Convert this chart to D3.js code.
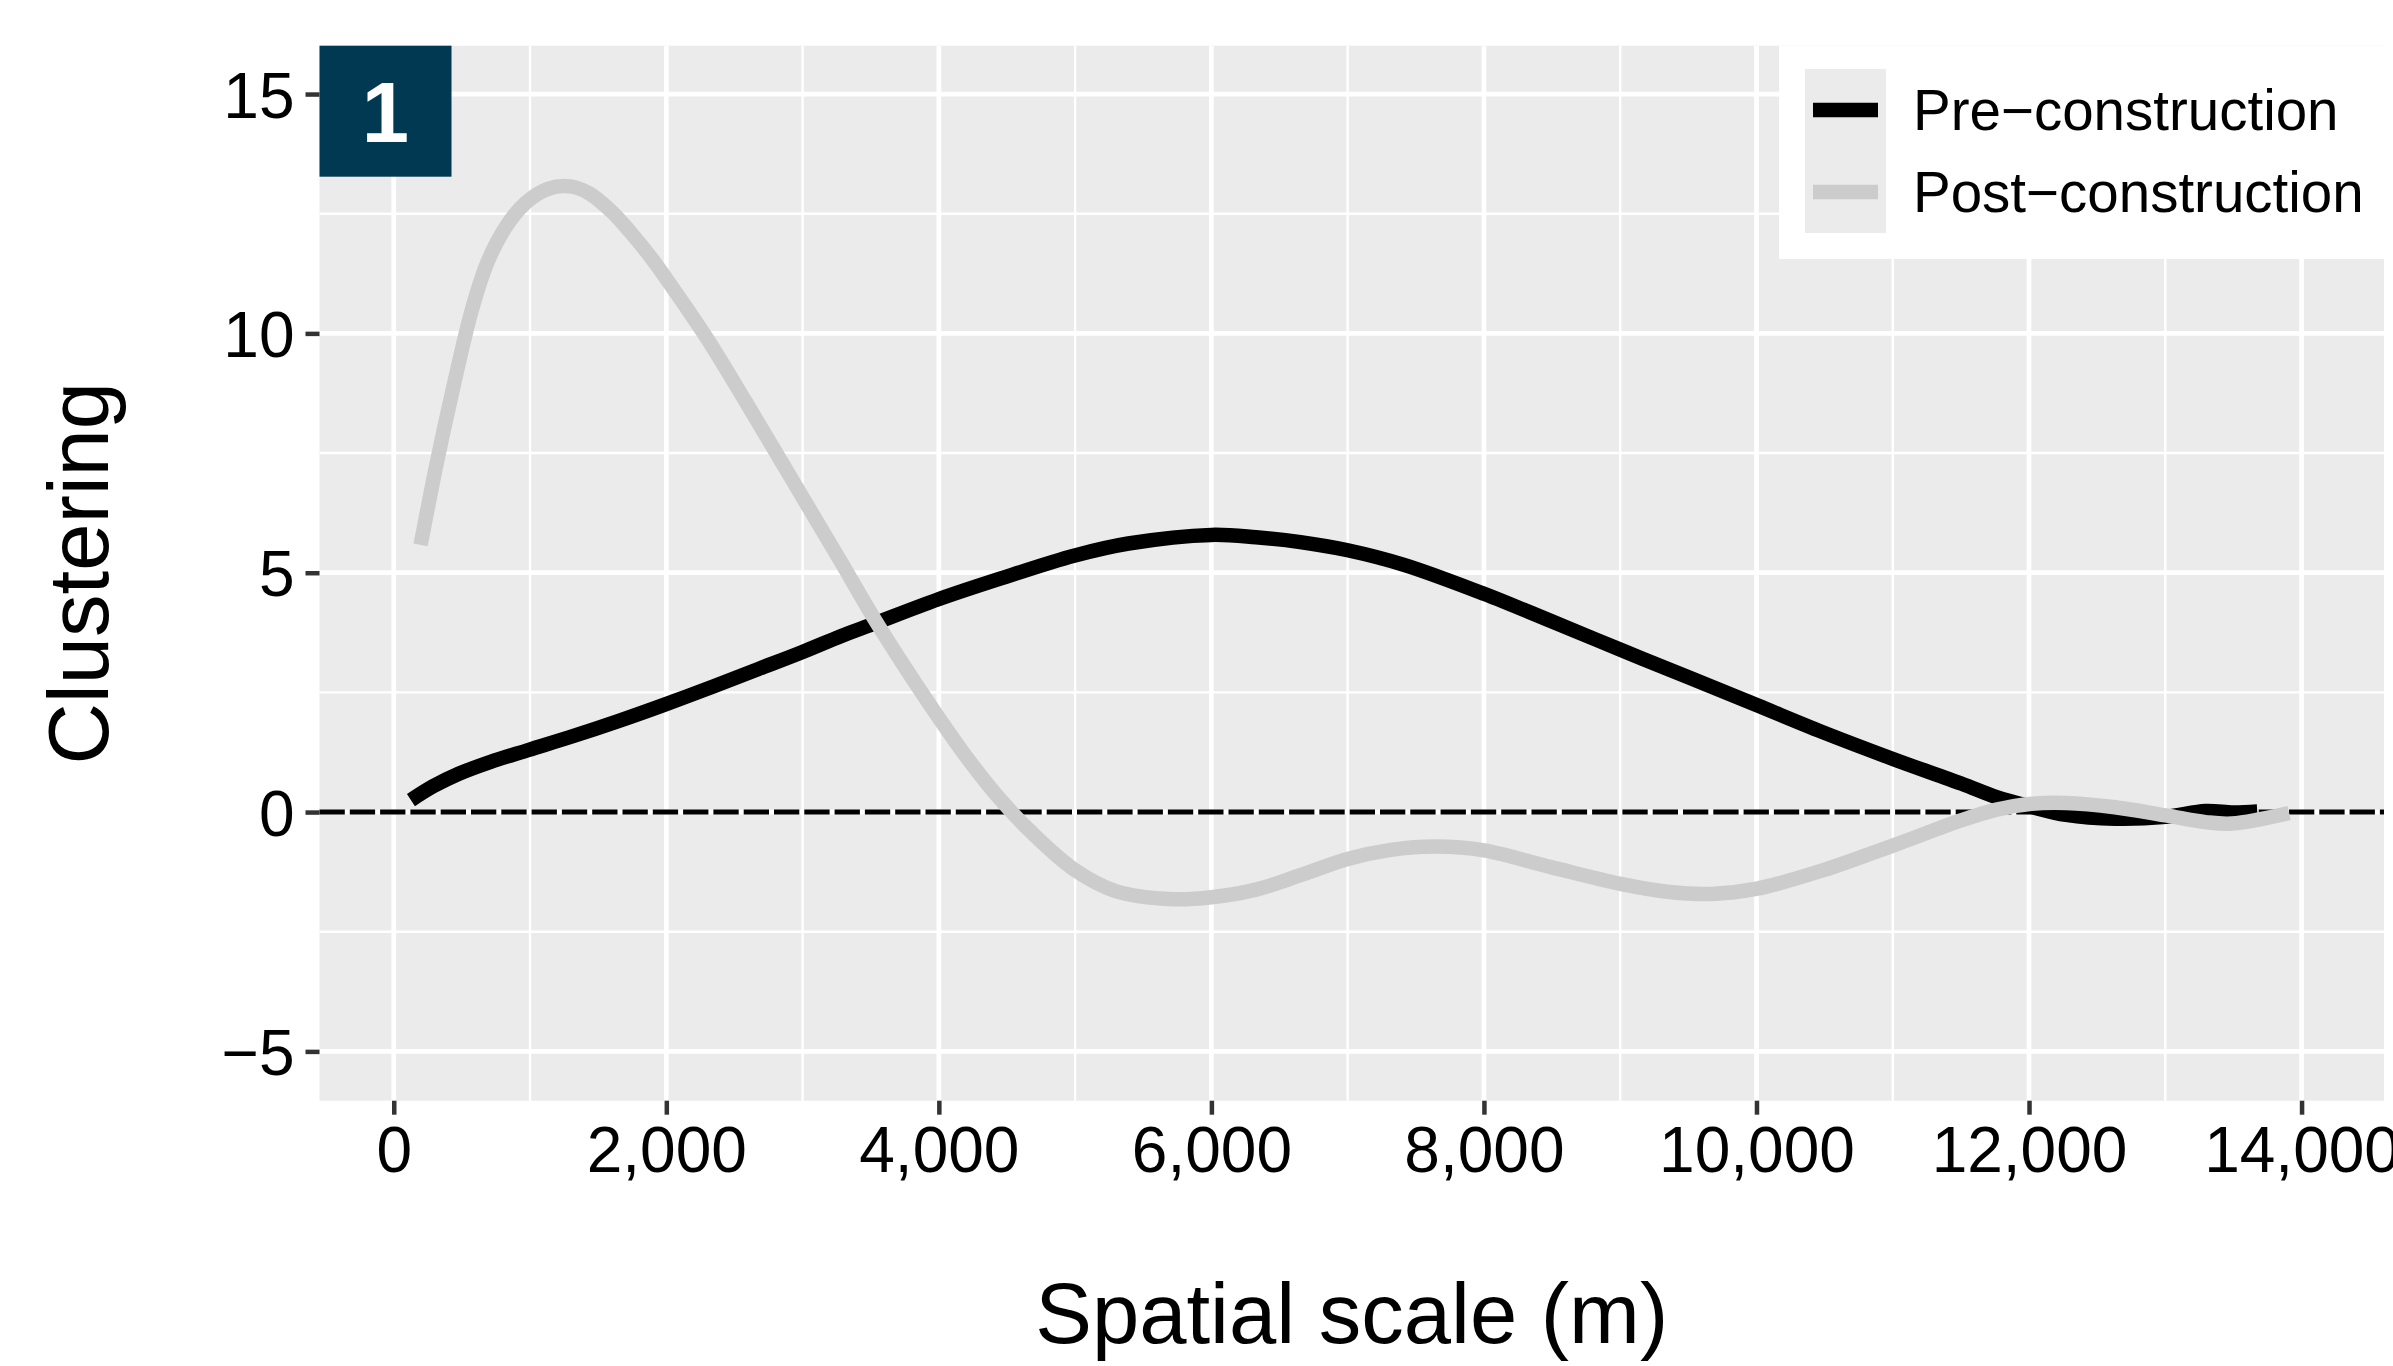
<!DOCTYPE html>
<html>
<head>
<meta charset="utf-8">
<script src="https://cdn.jsdelivr.net/npm/d3@7"></script>
<style>
  html, body { margin: 0; padding: 0; background: #ffffff; }
  svg { display: block; }
  text { font-family: "Liberation Sans", Arial, Helvetica, sans-serif; }
</style>
</head>
<body>
<svg id="chart" width="2393" height="1366"></svg>
<script>
// ---------------- DATA ----------------
const seriesNames = ["Pre\u2212construction", "Post\u2212construction"];
const seriesColors = ["#000000", "#cccccc"];

const preX = [126, 290, 477, 711, 992, 1320, 1647, 1993, 2349, 2677, 2995, 3285, 3519, 3992, 4455, 4998, 5391, 5999, 6327, 6653, 7000, 7419, 8000, 8492, 9003, 9514, 10005, 10485, 11001, 11507, 11762, 12003, 12273, 12631, 13004, 13295, 13500, 13675];
const preY = [0.25, 0.54, 0.80, 1.05, 1.30, 1.59, 1.90, 2.25, 2.63, 2.99, 3.34, 3.68, 3.93, 4.44, 4.88, 5.36, 5.61, 5.79, 5.74, 5.64, 5.47, 5.16, 4.56, 3.99, 3.39, 2.80, 2.23, 1.67, 1.11, 0.59, 0.31, 0.12, -0.06, -0.14, -0.10, 0.02, -0.01, 0.01];

const postX = [197, 313, 430, 571, 688, 828, 969, 1132, 1296, 1437, 1600, 1741, 1881, 1998, 2302, 2583, 2995, 3285, 3519, 3753, 3992, 4221, 4455, 4689, 4998, 5297, 5718, 5999, 6327, 6653, 7000, 7317, 7649, 8000, 8492, 9003, 9361, 9667, 10005, 10485, 11001, 11507, 11762, 12003, 12273, 12631, 13004, 13295, 13489, 13909];
const postY = [5.58, 7.26, 8.79, 10.47, 11.49, 12.25, 12.73, 13.02, 13.07, 12.92, 12.54, 12.10, 11.61, 11.15, 9.88, 8.57, 6.60, 5.21, 4.07, 3.02, 2.00, 1.08, 0.25, -0.45, -1.21, -1.65, -1.82, -1.78, -1.62, -1.32, -0.98, -0.79, -0.72, -0.80, -1.15, -1.50, -1.67, -1.71, -1.60, -1.22, -0.70, -0.17, 0.05, 0.17, 0.19, 0.10, -0.07, -0.21, -0.24, -0.02];

const xMajorTicks = [0, 2000, 4000, 6000, 8000, 10000, 12000, 14000];
const xMinorTicks = [1000, 3000, 5000, 7000, 9000, 11000, 13000];
const yMajorTicks = [-5, 0, 5, 10, 15];
const yMinorTicks = [-2.5, 2.5, 7.5, 12.5];
const xDomain = [-545, 14605];
const yDomain = [-6.03, 16.01];
const panelLabel = "1";
const xTitle = "Spatial scale (m)";
const yTitle = "Clustering";

// ---------------- LAYOUT ----------------
const W = 2393, H = 1366;
const P = { left: 319.5, right: 2384, top: 45.7, bottom: 1100.7 };

const svg = d3.select("#chart");
const x = d3.scaleLinear().domain(xDomain).range([P.left, P.right]);
const y = d3.scaleLinear().domain(yDomain).range([P.bottom, P.top]);

// panel background
svg.append("rect")
  .attr("x", P.left).attr("y", P.top)
  .attr("width", P.right - P.left).attr("height", P.bottom - P.top)
  .attr("fill", "#ebebeb");

const grid = svg.append("g");
// minor grid
grid.selectAll(".vmin").data(xMinorTicks).join("line")
  .attr("x1", d => x(d)).attr("x2", d => x(d))
  .attr("y1", P.top).attr("y2", P.bottom)
  .attr("stroke", "#ffffff").attr("stroke-width", 2.4);
grid.selectAll(".hmin").data(yMinorTicks).join("line")
  .attr("y1", d => y(d)).attr("y2", d => y(d))
  .attr("x1", P.left).attr("x2", P.right)
  .attr("stroke", "#ffffff").attr("stroke-width", 2.4);
// major grid
grid.selectAll(".vmaj").data(xMajorTicks).join("line")
  .attr("x1", d => x(d)).attr("x2", d => x(d))
  .attr("y1", P.top).attr("y2", P.bottom)
  .attr("stroke", "#ffffff").attr("stroke-width", 4.7);
grid.selectAll(".hmaj").data(yMajorTicks).join("line")
  .attr("y1", d => y(d)).attr("y2", d => y(d))
  .attr("x1", P.left).attr("x2", P.right)
  .attr("stroke", "#ffffff").attr("stroke-width", 4.7);

// dashed zero line
svg.append("line")
  .attr("x1", P.left).attr("x2", P.right)
  .attr("y1", y(0)).attr("y2", y(0))
  .attr("stroke", "#000000").attr("stroke-width", 5)
  .attr("stroke-dasharray", "25.3,5");

// series lines
const clip = svg.append("clipPath").attr("id", "pclip");
clip.append("rect").attr("x", P.left).attr("y", P.top)
  .attr("width", P.right - P.left).attr("height", P.bottom - P.top);

const line = d3.line()
  .x(d => x(d[0])).y(d => y(d[1]))
  .curve(d3.curveCatmullRom.alpha(0.5));

const seriesData = [
  d3.zip(preX, preY),
  d3.zip(postX, postY)
];
const lines = svg.append("g").attr("clip-path", "url(#pclip)");
seriesData.forEach((pts, i) => {
  lines.append("path")
    .datum(pts)
    .attr("d", line)
    .attr("fill", "none")
    .attr("stroke", seriesColors[i])
    .attr("stroke-width", 14.5)
    .attr("stroke-linecap", "butt")
    .attr("stroke-linejoin", "round");
});

// axes
const fs = 64;
const xAxis = svg.append("g")
  .attr("transform", `translate(0,${P.bottom})`)
  .call(d3.axisBottom(x).tickValues(xMajorTicks).tickFormat(d3.format(",")).tickSize(14).tickPadding(12));
const yAxis = svg.append("g")
  .attr("transform", `translate(${P.left},0)`)
  .call(d3.axisLeft(y).tickValues(yMajorTicks).tickFormat(d3.format("d")).tickSize(14).tickPadding(11));
[xAxis, yAxis].forEach(g => {
  g.select(".domain").remove();
  g.selectAll(".tick line").attr("stroke", "#333333").attr("stroke-width", 4.5);
  g.selectAll(".tick text")
    .attr("fill", "#000000")
    .style("font-size", fs + "px")
    .style("font-family", "'Liberation Sans', Arial, sans-serif");
});
xAxis.selectAll(".tick text").attr("dy", null).attr("y", 1172 - P.bottom);
yAxis.selectAll(".tick text").attr("dy", "0.36em");

// axis titles
svg.append("text")
  .attr("x", (P.left + P.right) / 2).attr("y", 1343)
  .attr("text-anchor", "middle")
  .style("font-size", "85px")
  .text(xTitle);
svg.append("text")
  .attr("transform", `translate(108,${(P.top + P.bottom) / 2}) rotate(-90)`)
  .attr("text-anchor", "middle")
  .style("font-size", "85px")
  .text(yTitle);

// panel label box
svg.append("rect")
  .attr("x", P.left).attr("y", P.top)
  .attr("width", 132).attr("height", 131)
  .attr("fill", "#023952");
svg.append("text")
  .attr("x", P.left + 66).attr("y", P.top + 66)
  .attr("dy", "0.36em")
  .attr("text-anchor", "middle")
  .attr("fill", "#ffffff")
  .style("font-size", "85px").style("font-weight", "bold")
  .text(panelLabel);

// legend
const lg = svg.append("g");
lg.append("rect").attr("x", 1779).attr("y", P.top)
  .attr("width", W - 1779).attr("height", 259 - P.top)
  .attr("fill", "#ffffff");
const keyX = 1805, keyW = 81, keyTop = 69, keyH = 82;
seriesNames.forEach((name, i) => {
  const ky = keyTop + i * keyH;
  lg.append("rect").attr("x", keyX).attr("y", ky)
    .attr("width", keyW).attr("height", keyH)
    .attr("fill", "#ebebeb");
  lg.append("line")
    .attr("x1", keyX + 8).attr("x2", keyX + keyW - 8)
    .attr("y1", ky + keyH / 2).attr("y2", ky + keyH / 2)
    .attr("stroke", seriesColors[i]).attr("stroke-width", 14.5);
  lg.append("text")
    .attr("x", 1913).attr("y", ky + keyH / 2)
    .attr("dy", "0.36em")
    .style("font-size", "56.5px")
    .text(name);
});
</script>
</body>
</html>
